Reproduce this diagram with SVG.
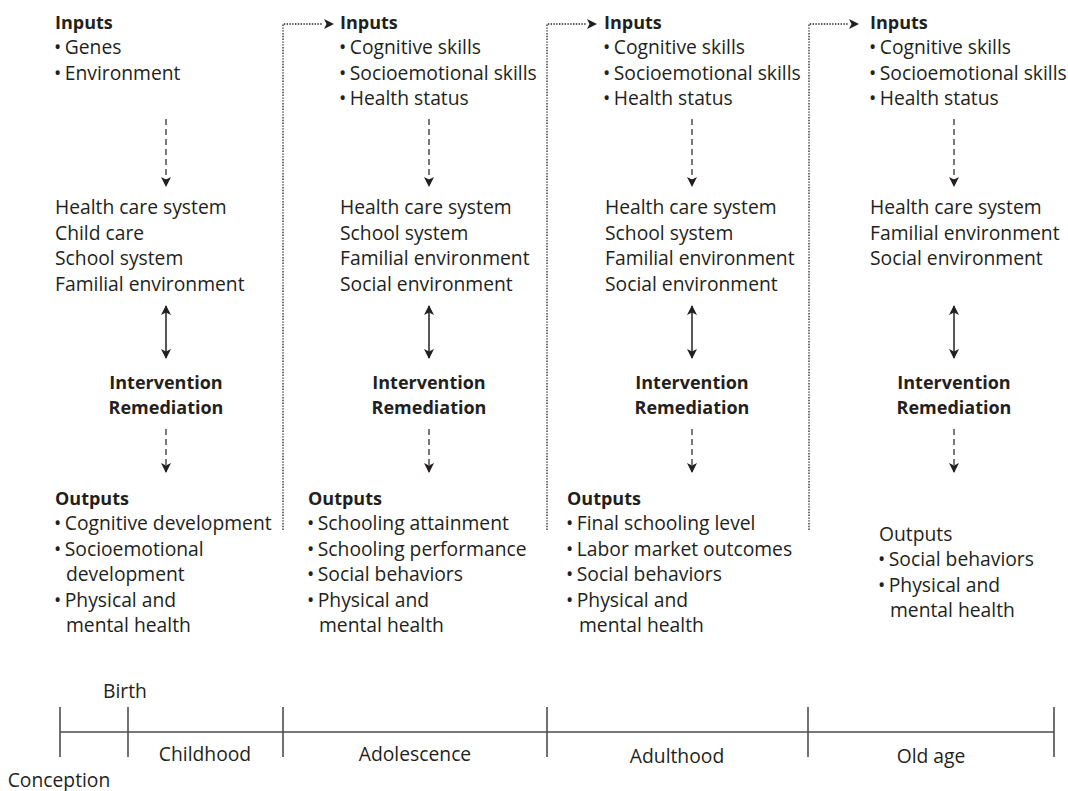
<svg xmlns="http://www.w3.org/2000/svg" width="1068" height="791" viewBox="0 0 1068 791">
<defs>
<marker id="ah" viewBox="0 0 10 10" refX="9" refY="5" markerWidth="10" markerHeight="10" markerUnits="userSpaceOnUse" orient="auto-start-reverse">
<path d="M0,0 L10,5 L0,10 L2.5,5 z" fill="#231f20"/>
</marker>
</defs>
<style>
text{font-family:"Open Sans","Noto Sans","Liberation Sans",sans-serif;font-size:19.3px;fill:#231f20}
.b{font-weight:bold;font-size:18px}
.c{text-anchor:middle}
.dash{stroke:#231f20;stroke-width:1.2;stroke-dasharray:6,4;fill:none}
.solid{stroke:#231f20;stroke-width:1.5;fill:none}
.dot{stroke:#231f20;stroke-width:1.3;stroke-dasharray:1.4,1.4;fill:none}
.tl{stroke:#4d4d4d;stroke-width:1.6;fill:none}
</style>
<g id="connectors">
<line class="dash" x1="166" y1="119" x2="166" y2="186" marker-end="url(#ah)"/>
<line class="solid" x1="166" y1="306" x2="166" y2="358" marker-start="url(#ah)" marker-end="url(#ah)"/>
<line class="dash" x1="166" y1="429" x2="166" y2="472" marker-end="url(#ah)"/>
<line class="dash" x1="429" y1="119" x2="429" y2="186" marker-end="url(#ah)"/>
<line class="solid" x1="429" y1="306" x2="429" y2="358" marker-start="url(#ah)" marker-end="url(#ah)"/>
<line class="dash" x1="429" y1="429" x2="429" y2="472" marker-end="url(#ah)"/>
<line class="dash" x1="692" y1="119" x2="692" y2="186" marker-end="url(#ah)"/>
<line class="solid" x1="692" y1="306" x2="692" y2="358" marker-start="url(#ah)" marker-end="url(#ah)"/>
<line class="dash" x1="692" y1="429" x2="692" y2="472" marker-end="url(#ah)"/>
<line class="dash" x1="954" y1="119" x2="954" y2="186" marker-end="url(#ah)"/>
<line class="solid" x1="954" y1="306" x2="954" y2="358" marker-start="url(#ah)" marker-end="url(#ah)"/>
<line class="dash" x1="954" y1="429" x2="954" y2="472" marker-end="url(#ah)"/>
<path class="dot" d="M283,530 V24 H322"/>
<line x1="320" y1="24" x2="333" y2="24" stroke="none" marker-end="url(#ah)"/>
<path class="dot" d="M547,530 V24 H586"/>
<line x1="584" y1="24" x2="596" y2="24" stroke="none" marker-end="url(#ah)"/>
<path class="dot" d="M809,530 V24 H848"/>
<line x1="846" y1="24" x2="858" y2="24" stroke="none" marker-end="url(#ah)"/>
</g>
<g id="childhood">
<text x="55" y="29" class="b">Inputs</text>
<text x="54" y="54">•<tspan dx="3.5">Genes</tspan></text>
<text x="54" y="80">•<tspan dx="3.5">Environment</tspan></text>
<text x="55" y="214">Health care system</text>
<text x="55" y="240">Child care</text>
<text x="55" y="265">School system</text>
<text x="55" y="291">Familial environment</text>
<text x="166" y="389" class="b c">Intervention</text>
<text x="166" y="414" class="b c">Remediation</text>
<text x="55" y="505" class="b">Outputs</text>
<text x="54" y="530">•<tspan dx="3.5">Cognitive development</tspan></text>
<text x="54" y="556">•<tspan dx="3.5">Socioemotional</tspan></text>
<text x="66" y="581">development</text>
<text x="54" y="607">•<tspan dx="3.5">Physical and</tspan></text>
<text x="66" y="632">mental health</text>
</g>
<g id="adolescence">
<text x="340" y="29" class="b">Inputs</text>
<text x="339" y="54">•<tspan dx="3.5">Cognitive skills</tspan></text>
<text x="339" y="80">•<tspan dx="3.5">Socioemotional skills</tspan></text>
<text x="339" y="105">•<tspan dx="3.5">Health status</tspan></text>
<text x="340" y="214">Health care system</text>
<text x="340" y="240">School system</text>
<text x="340" y="265">Familial environment</text>
<text x="340" y="291">Social environment</text>
<text x="429" y="389" class="b c">Intervention</text>
<text x="429" y="414" class="b c">Remediation</text>
<text x="308" y="505" class="b">Outputs</text>
<text x="307" y="530">•<tspan dx="3.5">Schooling attainment</tspan></text>
<text x="307" y="556">•<tspan dx="3.5">Schooling performance</tspan></text>
<text x="307" y="581">•<tspan dx="3.5">Social behaviors</tspan></text>
<text x="307" y="607">•<tspan dx="3.5">Physical and</tspan></text>
<text x="319" y="632">mental health</text>
</g>
<g id="adulthood">
<text x="604" y="29" class="b">Inputs</text>
<text x="603" y="54">•<tspan dx="3.5">Cognitive skills</tspan></text>
<text x="603" y="80">•<tspan dx="3.5">Socioemotional skills</tspan></text>
<text x="603" y="105">•<tspan dx="3.5">Health status</tspan></text>
<text x="605" y="214">Health care system</text>
<text x="605" y="240">School system</text>
<text x="605" y="265">Familial environment</text>
<text x="605" y="291">Social environment</text>
<text x="692" y="389" class="b c">Intervention</text>
<text x="692" y="414" class="b c">Remediation</text>
<text x="567" y="505" class="b">Outputs</text>
<text x="566" y="530">•<tspan dx="3.5">Final schooling level</tspan></text>
<text x="566" y="556">•<tspan dx="3.5">Labor market outcomes</tspan></text>
<text x="566" y="581">•<tspan dx="3.5">Social behaviors</tspan></text>
<text x="566" y="607">•<tspan dx="3.5">Physical and</tspan></text>
<text x="579" y="632">mental health</text>
</g>
<g id="oldage">
<text x="870" y="29" class="b">Inputs</text>
<text x="869" y="54">•<tspan dx="3.5">Cognitive skills</tspan></text>
<text x="869" y="80">•<tspan dx="3.5">Socioemotional skills</tspan></text>
<text x="869" y="105">•<tspan dx="3.5">Health status</tspan></text>
<text x="870" y="214">Health care system</text>
<text x="870" y="240">Familial environment</text>
<text x="870" y="265">Social environment</text>
<text x="954" y="389" class="b c">Intervention</text>
<text x="954" y="414" class="b c">Remediation</text>
<text x="879" y="541">Outputs</text>
<text x="878" y="566">•<tspan dx="3.5">Social behaviors</tspan></text>
<text x="878" y="592">•<tspan dx="3.5">Physical and</tspan></text>
<text x="890" y="617">mental health</text>
</g>
<g id="timeline">
<line class="tl" x1="60" y1="732" x2="1054" y2="732"/>
<line class="tl" x1="60" y1="707" x2="60" y2="757"/>
<line class="tl" x1="128" y1="707" x2="128" y2="757"/>
<line class="tl" x1="283" y1="707" x2="283" y2="757"/>
<line class="tl" x1="547" y1="707" x2="547" y2="757"/>
<line class="tl" x1="808" y1="707" x2="808" y2="757"/>
<line class="tl" x1="1054" y1="707" x2="1054" y2="757"/>
<text x="125" y="698" class="c">Birth</text>
<text x="59" y="787" class="c">Conception</text>
<text x="205" y="761" class="c">Childhood</text>
<text x="415" y="761" class="c">Adolescence</text>
<text x="677" y="763" class="c">Adulthood</text>
<text x="931" y="763" class="c">Old age</text>
</g>
</svg>
